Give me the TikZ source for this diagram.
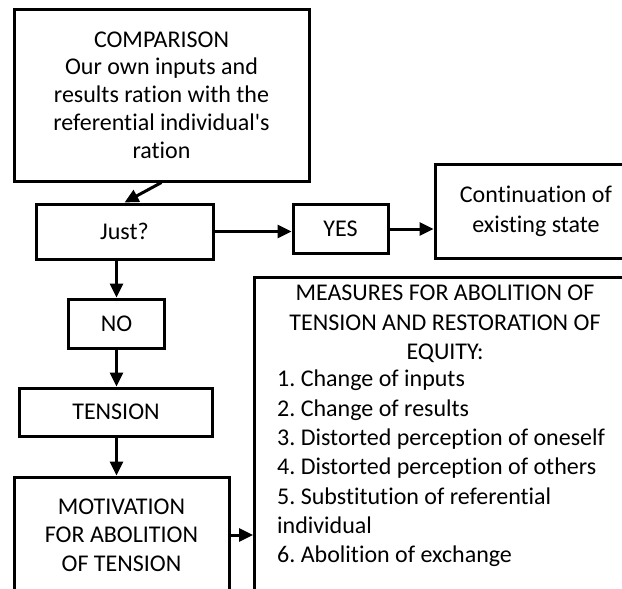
\documentclass[tikz,border=0pt]{standalone}
\usepackage{fontspec}
\setmainfont{Carlito}[Ligatures=NoCommon]
\usetikzlibrary{arrows.meta}
\frenchspacing
\tikzset{
  box/.style={draw, line width=3pt, inner sep=0pt, align=center, font=\fontsize{24pt}{29pt}\selectfont},
  arr/.style={line width=3pt, -{Triangle[length=14pt,width=13pt]}},
  txt/.style={inner sep=0pt, font=\fontsize{24pt}{29.3pt}\selectfont}
}
\begin{document}
\begin{tikzpicture}[x=1pt,y=-1pt]
\useasboundingbox (0,0) rectangle (622,589);
\clip (0,0) rectangle (622,589);
\node[box, minimum width=295pt, minimum height=172pt, font=\fontsize{24pt}{27.8pt}\selectfont] (comp) at (161.5,95)
  {COMPARISON\\Our own inputs and\\results ration with the\\referential individual\textquotesingle s\\ration};
\node[box, minimum width=177pt, minimum height=55pt] (just) at (124.5,231.5) {Just?};
\node[box, minimum width=95pt, minimum height=49pt] (yes) at (340.5,229) {YES};
\node[box, minimum width=202pt, minimum height=94pt, font=\fontsize{24pt}{30pt}\selectfont] (cont) at (536,211) {Continuation of\\existing state};
\node[box, minimum width=96pt, minimum height=49pt] (no) at (116.5,323.5) {NO};
\node[box, minimum width=193pt, minimum height=48pt] (ten) at (116,412) {TENSION};
\node[box, minimum width=215pt, minimum height=116pt, font=\fontsize{24pt}{28.5pt}\selectfont] (mot) at (121.5,535) {MOTIVATION\\FOR ABOLITION\\OF TENSION};
\node[box, anchor=north west, minimum width=384pt, minimum height=330pt] (meas) at (253,276) {};
\node[txt, align=center] (meastitle) at (445,324) {MEASURES FOR ABOLITION OF\\TENSION AND RESTORATION OF\\EQUITY:};
\node[txt, align=left, anchor=west] (measlist) at (277,468.5) {1. Change of inputs\\2. Change of results\\3. Distorted perception of oneself\\4. Distorted perception of others\\5. Substitution of referential\\individual\\6. Abolition of exchange};
\draw[arr] (comp.south) -- (just.north);
\draw[arr] (just.east) -- (just.east -| yes.west);
\draw[arr] (yes.east) -- (yes.east -| cont.west);
\draw[arr] (just.south -| no.north) -- (no.north);
\draw[arr] (no.south) -- (no.south |- ten.north);
\draw[arr] (no.south |- ten.south) -- (no.south |- mot.north);
\draw[arr] (mot.east) -- (mot.east -| meas.west);
\end{tikzpicture}
\end{document}
